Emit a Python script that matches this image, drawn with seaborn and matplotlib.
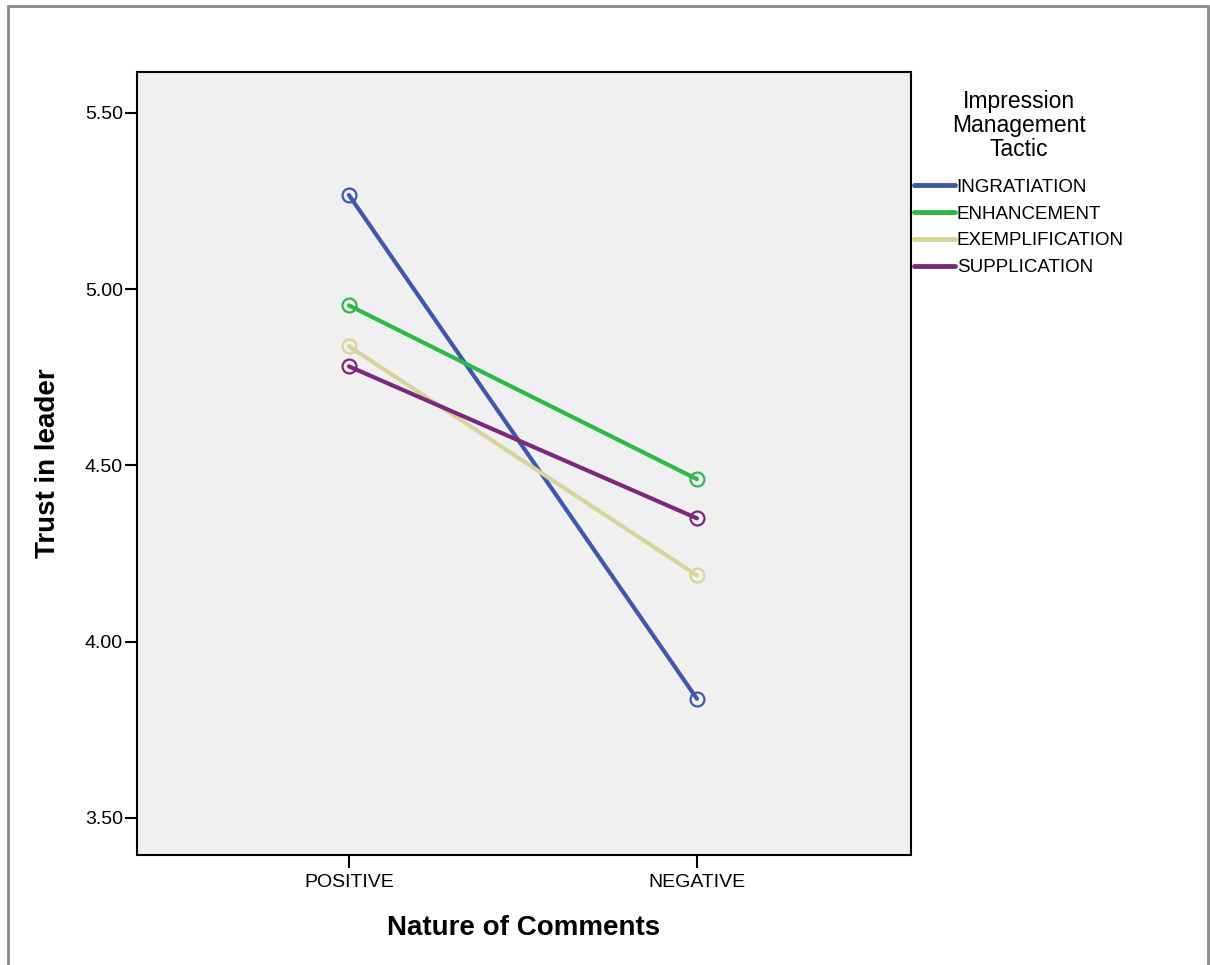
import matplotlib
matplotlib.use("Agg")
import matplotlib.pyplot as plt
from matplotlib.lines import Line2D
from matplotlib.patches import Rectangle
import seaborn as sns
import pandas as pd

comments = ["POSITIVE", "NEGATIVE"]
tactics = ["INGRATIATION", "ENHANCEMENT", "EXEMPLIFICATION", "SUPPLICATION"]
ingratiation = [5.267, 3.838]
enhancement = [4.954, 4.461]
exemplification = [4.838, 4.188]
supplication = [4.781, 4.350]
colors = ["#3E58AC", "#2EB848", "#D8D49A", "#7C287D"]

rows = []
for name, vals in zip(tactics, [ingratiation, enhancement, exemplification, supplication]):
    for c, v in zip(comments, vals):
        rows.append({"Nature of Comments": c, "Trust in leader": v, "Tactic": name})
df = pd.DataFrame(rows)

sns.set_style("white")
plt.rcParams["font.family"] = ["Liberation Sans", "DejaVu Sans"]
plt.rcParams["text.color"] = "black"
plt.rcParams["axes.labelcolor"] = "black"

fig = plt.figure(figsize=(12.1, 9.65), dpi=100)
ax = fig.add_axes([0.1132, 0.114, 0.6397, 0.8114])
ax.set_facecolor("#F0F0F0")

sns.pointplot(data=df, x="Nature of Comments", y="Trust in leader", hue="Tactic",
              order=comments, hue_order=tactics, palette=colors,
              markers="o", linewidth=3, markersize=10, errorbar=None, ax=ax)

# hollow SPSS-style markers
for line in ax.lines:
    col = line.get_color()
    line.set_markerfacecolor("none")
    line.set_markeredgecolor(col)
    line.set_markeredgewidth(1.6)

ax.set_xlim(-0.609, 1.615)
ax.set_ylim(3.395, 5.616)
ax.set_yticks([3.5, 4.0, 4.5, 5.0, 5.5])
ax.set_yticklabels(["3.50", "4.00", "4.50", "5.00", "5.50"])
ax.tick_params(axis="both", which="major", direction="out", length=9, width=1.5,
               labelsize=14, colors="black", left=True, bottom=True)
ax.tick_params(axis="y", pad=1)
ax.tick_params(axis="x", pad=5)
for s in ax.spines.values():
    s.set_color("black")
    s.set_linewidth(1.5)

ax.set_xlabel("Nature of Comments", fontsize=20, fontweight="bold")
ax.set_ylabel("Trust in leader", fontsize=20, fontweight="bold")
ax.xaxis.set_label_coords(0.5, -0.077)
ax.yaxis.set_label_coords(-0.098, 0.5)

ax.get_legend().remove()
handles = [Line2D([0], [0], color=c, lw=3.5) for c in colors]
leg = fig.legend(handles, tactics, title="Impression\nManagement\nTactic",
                 loc="upper left", bbox_to_anchor=(0.755, 0.907), frameon=False,
                 fontsize=13.5, title_fontsize=16.5, handlelength=2.2, handletextpad=0.1,
                 labelspacing=0.52, borderaxespad=0, borderpad=0)
leg.get_title().set_multialignment("center")
leg.get_title().set_linespacing(1.05)
leg._legend_box.sep = 13

fig.patches.append(Rectangle((0.007, -0.01), 0.991, 1.004, transform=fig.transFigure,
                             fill=False, edgecolor="#888888", linewidth=2))

fig.savefig("out.png", dpi=100)
